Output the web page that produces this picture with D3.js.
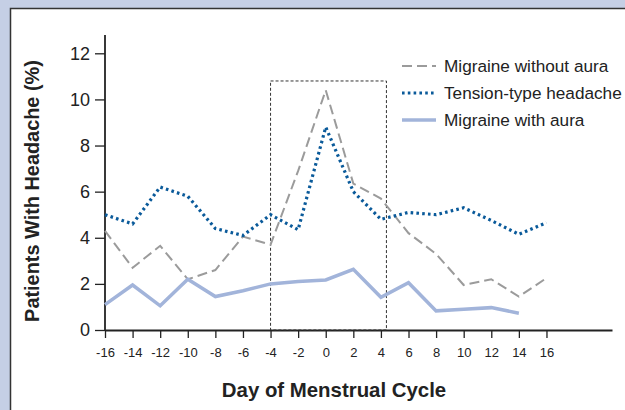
<!DOCTYPE html>
<html><head><meta charset="utf-8">
<script src="https://cdn.jsdelivr.net/npm/d3@7"></script>
<style>
html,body{margin:0;padding:0;background:#c5cfe5;}
svg{display:block;font-family:"Liberation Sans",Arial,sans-serif;}
</style></head>
<body><svg id="chart" width="625" height="410"></svg>
<script>
const days = [-16,-14,-12,-10,-8,-6,-4,-2,0,2,4,6,8,10,12,14,16];
const migraineWithoutAura = [4.3,2.7,3.65,2.2,2.6,4.05,3.7,6.9,10.4,6.35,5.7,4.2,3.3,1.95,2.2,1.45,2.25];
const tensionType = [5.0,4.6,6.2,5.8,4.4,4.1,5.0,4.35,8.8,6.0,4.8,5.1,5.0,5.3,4.75,4.15,4.65];
const migraineWithAura = [1.1,1.95,1.05,2.2,1.45,1.7,2.0,2.1,2.17,2.63,1.42,2.05,0.83,0.9,0.97,0.73];
const yTicks = [0,2,4,6,8,10,12];
const xTicks = [-16,-14,-12,-10,-8,-6,-4,-2,0,2,4,6,8,10,12,14,16];
const periBox = {x0:-4, x1:4.4, y1:10.8};
const seriesNames = ["Migraine without aura","Tension-type headache","Migraine with aura"];

const svg = d3.select("#chart");
// panel
svg.append("rect").attr("x",10.5).attr("y",8.5).attr("width",640).attr("height",420)
  .attr("fill","#fff").attr("stroke","#333").attr("stroke-width",1.5);

const x = d3.scaleLinear().domain([-16,20.75]).range([105,612]);
const y = d3.scaleLinear().domain([0,12]).range([330,53.3]);
const fmt = d => String(d);

// axes
const gx = svg.append("g").attr("transform","translate(0,330)")
  .call(d3.axisBottom(x).tickValues(xTicks).tickFormat(fmt).tickSize(8).tickPadding(10).tickSizeOuter(0));
gx.select(".domain").attr("stroke","#222").attr("stroke-width",1.8);
gx.selectAll(".tick line").attr("stroke","#222").attr("stroke-width",1.3);
gx.selectAll(".tick text").attr("font-size",13).attr("fill","#222").attr("font-family","Liberation Sans, Arial, sans-serif");

const gy = svg.append("g").attr("transform","translate(105,0)")
  .call(d3.axisLeft(y).tickValues(yTicks).tickFormat(fmt).tickSize(10).tickPadding(5).tickSizeOuter(0));
gy.select(".domain").remove();
gy.append("line").attr("x1",0).attr("x2",0).attr("y1",330).attr("y2",35).attr("stroke","#222").attr("stroke-width",1.8);
gy.selectAll(".tick line").attr("stroke","#222").attr("stroke-width",1.3);
gy.selectAll(".tick text").attr("font-size",18).attr("fill","#222").attr("font-family","Liberation Sans, Arial, sans-serif");

// dashed box
svg.append("rect")
  .attr("x",x(periBox.x0)).attr("y",y(periBox.y1))
  .attr("width",x(periBox.x1)-x(periBox.x0)).attr("height",y(0)-y(periBox.y1))
  .attr("fill","none").attr("stroke","#333").attr("stroke-width",1).attr("stroke-dasharray","3,2");

const line = d3.line().x(d=>x(d[0])).y(d=>y(d[1]));
const styles = [
  {data:migraineWithoutAura, color:"#9b9b9b", width:2, dash:"10,5"},
  {data:tensionType, color:"#0a5a9a", width:3.2, dash:"2.6,3.2"},
  {data:migraineWithAura, color:"#a2b4da", width:3.5, dash:null}
];
styles.forEach(s=>{
  svg.append("path").datum(s.data.map((v,i)=>[days[i],v]))
    .attr("d",line).attr("fill","none").attr("stroke",s.color)
    .attr("stroke-width",s.width).attr("stroke-dasharray",s.dash)
    .attr("stroke-linejoin","miter");
});

// legend
const legY = [66,93,120];
seriesNames.forEach((n,i)=>{
  const s = styles[i];
  svg.append("line").attr("x1",402).attr("x2",436).attr("y1",legY[i]).attr("y2",legY[i])
    .attr("stroke",s.color).attr("stroke-width",s.width).attr("stroke-dasharray",s.dash);
  svg.append("text").attr("x",444).attr("y",legY[i]+6).attr("font-size",17.2).attr("fill","#222").text(n);
});

// axis titles
svg.append("text").attr("x",334).attr("y",397).attr("text-anchor","middle")
  .attr("font-size",20.4).attr("font-weight","bold").attr("fill","#222").text("Day of Menstrual Cycle");
svg.append("text").attr("transform","translate(39,191) rotate(-90)").attr("text-anchor","middle")
  .attr("font-size",19.9).attr("font-weight","bold").attr("fill","#222").text("Patients With Headache (%)");
</script></body></html>
